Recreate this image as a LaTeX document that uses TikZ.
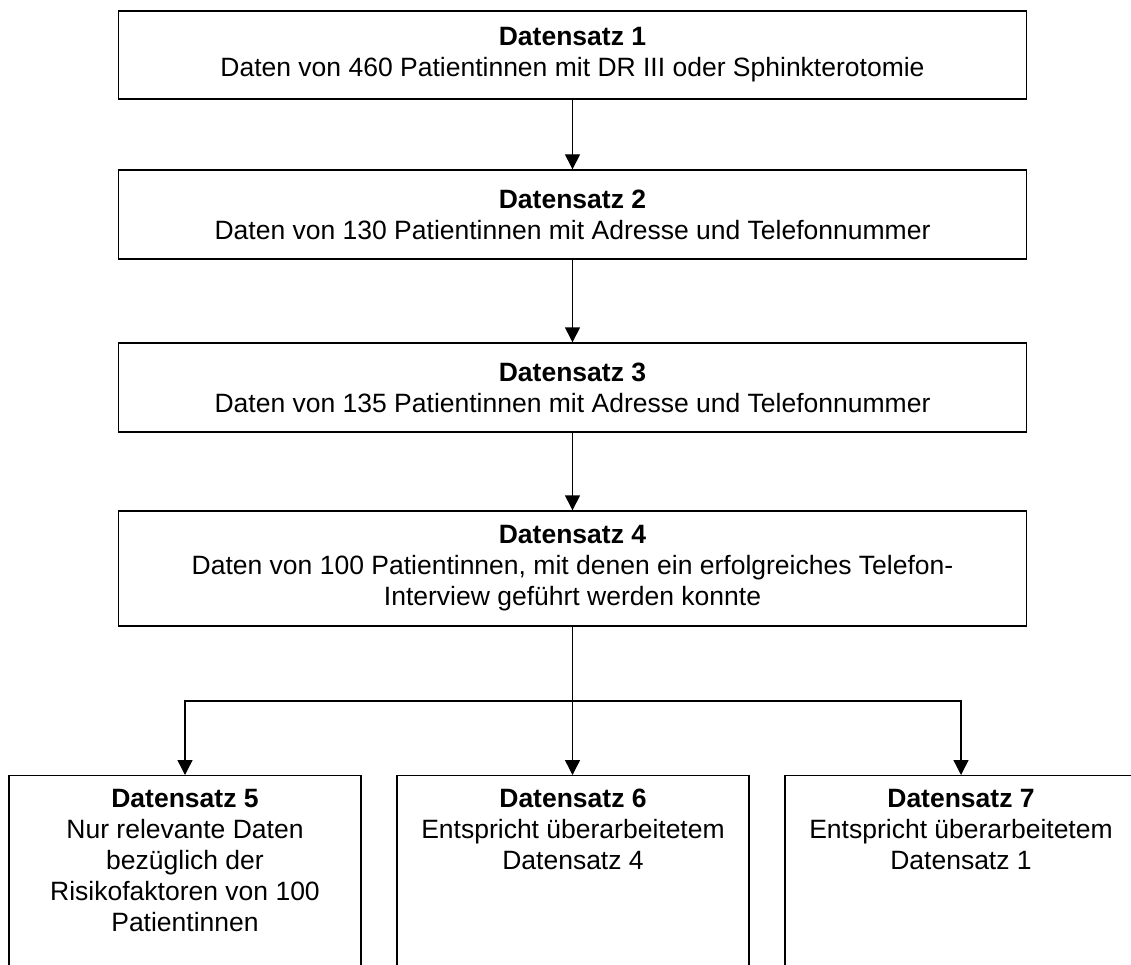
\documentclass[tikz,border=0pt]{standalone}
\usepackage{fontspec}
\setmainfont{Liberation Sans}
\usetikzlibrary{arrows.meta,calc}
\begin{document}
\begin{tikzpicture}[x=1pt,y=-1pt,
  box/.style={draw=black,line width=1.4pt,minimum width=908pt,inner sep=0pt,align=center,
    font=\fontsize{26.5}{31}\selectfont},
  lowbox/.style={draw=black,line width=1.4pt,minimum width=352pt,minimum height=300pt,anchor=north,inner sep=0pt},
  lowtxt/.style={anchor=north,inner sep=0pt,align=center,font=\fontsize{26.5}{31}\selectfont},
  arr/.style={line width=1.4pt,-{Triangle[width=15pt,length=15pt]}},
  ln/.style={line width=1.4pt}]
\useasboundingbox (0,0) rectangle (1131,965);
\clip (0,0) rectangle (1131,965);
\fill[white] (0,0) rectangle (1131,965);

\node[box,minimum height=88pt] (d1) at (572.5,55) {\textbf{Datensatz 1}\\Daten von 460 Patientinnen mit DR III oder Sphinkterotomie};
\node[box,minimum height=89pt] (d2) at (572.5,214.5) {\textbf{Datensatz 2}\\Daten von 130 Patientinnen mit Adresse und Telefonnummer};
\node[box,minimum height=89pt] (d3) at (572.5,387.5) {\textbf{Datensatz 3}\\Daten von 135 Patientinnen mit Adresse und Telefonnummer};
\node[box,minimum height=115pt] (d4) at (572.5,568.5) {\textbf{Datensatz 4}\\Daten von 100 Patientinnen, mit denen ein erfolgreiches Telefon-\\Interview geführt werden konnte};

\node[lowbox] (d5) at (185,775) {};
\node[lowbox] (d6) at (573,775) {};
\node[lowbox] (d7) at (961,775) {};

\node[lowtxt] (t5) at (185,789) {\textbf{Datensatz 5}\\Nur relevante Daten\\bezüglich der\\Risikofaktoren von 100\\Patientinnen};
\node[lowtxt] (t6) at (573,789) {\textbf{Datensatz 6}\\Entspricht überarbeitetem\\Datensatz 4};
\node[lowtxt] (t7) at (961,789) {\textbf{Datensatz 7}\\Entspricht überarbeitetem\\Datensatz 1};

\coordinate (j) at (572.5,701);

\draw[arr] (d1) -- (d2);
\draw[arr] (d2) -- (d3);
\draw[arr] (d3) -- (d4);
\draw[ln] (d4.south) -- (j);
\draw[arr] (j) -- (j |- d6.north);
\draw[arr] (j) -| (d5.north);
\draw[arr] (j) -| (d7.north);
\end{tikzpicture}
\end{document}
